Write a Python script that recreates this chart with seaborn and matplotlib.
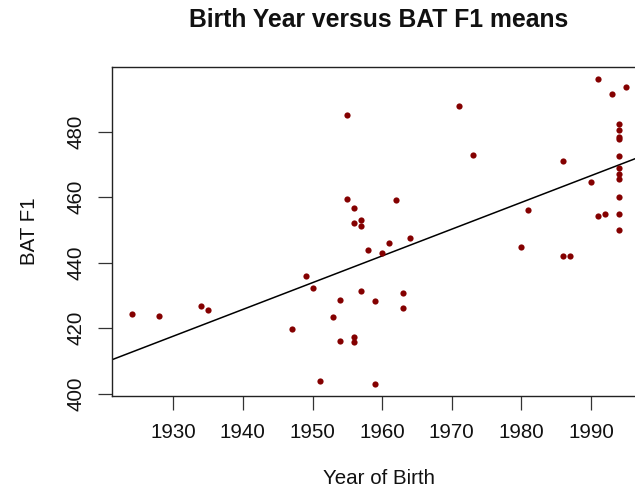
import matplotlib
matplotlib.use("Agg")
import matplotlib.pyplot as plt
import seaborn as sns
import pandas as pd

# birth year and BAT F1 mean per speaker
birth_year = [1924, 1928, 1934, 1935, 1947, 1949, 1950, 1951, 1953, 1954,
              1954, 1955, 1955, 1956, 1956, 1956, 1956, 1957, 1957, 1957,
              1958, 1959, 1959, 1960, 1961, 1962, 1963, 1963, 1964, 1971,
              1973, 1980, 1981, 1986, 1986, 1987, 1990, 1991, 1991, 1992,
              1993, 1994, 1994, 1994, 1994, 1994, 1994, 1994, 1994, 1994,
              1994, 1994, 1995]
bat_f1 = [424.2, 423.8, 426.7, 425.5, 419.9, 436.0, 432.3, 404.0, 423.5, 428.7,
          416.2, 485.0, 459.6, 456.8, 452.1, 417.4, 415.8, 453.0, 451.1, 431.5,
          443.8, 428.3, 403.1, 443.1, 446.1, 459.1, 430.8, 426.2, 447.6, 487.8,
          473.0, 444.7, 456.1, 471.1, 442.1, 442.1, 464.6, 496.0, 454.4, 454.9,
          491.7, 482.3, 480.5, 478.5, 477.8, 472.7, 468.9, 467.2, 465.6, 460.0,
          455.0, 450.1, 493.7]
x_ticks = [1930, 1940, 1950, 1960, 1970, 1980, 1990]
y_ticks = [400, 420, 440, 460, 480]

df = pd.DataFrame({"year": birth_year, "bat": bat_f1})

sns.set_style("white")
plt.rcParams['font.family'] = ['Liberation Sans', 'DejaVu Sans']

fig = plt.figure(figsize=(6.35, 4.98), dpi=100)
ax = fig.add_axes([0.176, 0.2054, 0.8407, 0.6595])

# R style 4% padding on both axes
xr = max(birth_year) - min(birth_year)
yr = max(bat_f1) - min(bat_f1)
xlim = (min(birth_year) - 0.04 * xr, max(birth_year) + 0.04 * xr)
ylim = (min(bat_f1) - 0.04 * yr, max(bat_f1) + 0.04 * yr)
ax.set_xlim(xlim)
ax.set_ylim(ylim)

sns.regplot(data=df, x="year", y="bat", ax=ax, scatter=False, ci=None,
            truncate=False, color="black", line_kws={"linewidth": 1.1})
sns.scatterplot(data=df, x="year", y="bat", ax=ax, color="#840000",
                s=20, linewidth=0, zorder=3)
ax.set_xlim(xlim)
ax.set_ylim(ylim)

ax.set_xticks(x_ticks)
ax.set_yticks(y_ticks)
ax.tick_params(axis="both", direction="out", length=9.8, width=0.9,
               color="#333333", labelsize=14.8, labelcolor="#111111",
               bottom=True, left=True)
ax.tick_params(axis="x", pad=10)
ax.tick_params(axis="y", pad=9)
for lab in ax.get_yticklabels():
    lab.set_rotation(90)
    lab.set_va("center")

for sp in ax.spines.values():
    sp.set_color("#222222")
    sp.set_linewidth(1.0)

ax.set_xlabel("Year of Birth", fontsize=14.8, labelpad=19, color="#111111")
ax.set_ylabel("BAT F1", fontsize=14.8, labelpad=20, color="#111111")
ax.set_title("Birth Year versus BAT F1 means", fontsize=17.8,
             fontweight="bold", pad=29, color="#111111")

fig.savefig("out.png", dpi=100)
